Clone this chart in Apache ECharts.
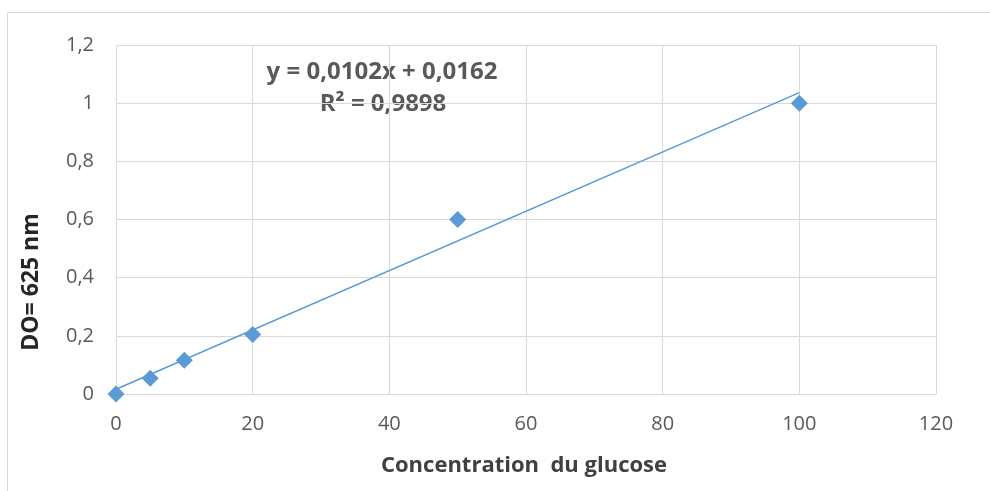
<!DOCTYPE html>
<html><head><meta charset="utf-8">
<script src="https://cdn.jsdelivr.net/npm/echarts@6/dist/echarts.min.js"></script>
<style>html,body{margin:0;padding:0;background:#fff}#c{width:990px;height:491px}</style>
</head><body><div id="c"></div>
<script>
const concentrations = [0, 5, 10, 20, 50, 100];
const absorbances = [0, 0.054, 0.116, 0.205, 0.6, 1.0];
const trendSlope = 0.0102;
const trendIntercept = 0.0162;
const trendRange = [0, 100];
const equationText = 'y = 0,0102x + 0,0162';
const r2Text = 'R² = 0,9898';
const xTitle = 'Concentration  du glucose';
const yTitle = 'DO= 625 nm';

const trendData = trendRange.map(x => [x, trendSlope * x + trendIntercept]);
const fmt = v => String(Math.round(v * 10) / 10).replace('.', ',');
const gray = '#595959', grid = '#d9d9d9', blue = '#5b9bd5';
const chart = echarts.init(document.getElementById('c'));
chart.setOption({
  animation: false,
  grid: {left: 116, right: 54, top: 45, bottom: 97},
  xAxis: {type: 'value', min: 0, max: 120, interval: 20,
    axisLine: {show: true, lineStyle: {color: grid}}, axisTick: {show: false},
    splitLine: {show: true, lineStyle: {color: grid, width: 1}},
    axisLabel: {color: gray, fontSize: 20, fontFamily: 'Open Sans', margin: 20}},
  yAxis: {type: 'value', min: 0, max: 1.2, interval: 0.2,
    axisLine: {show: false}, axisTick: {show: false},
    splitLine: {show: true, lineStyle: {color: grid, width: 1}},
    axisLabel: {color: gray, fontSize: 20, fontFamily: 'Open Sans', margin: 22, formatter: fmt}},
  series: [
    {type: 'line', data: trendData, symbol: 'none', lineStyle: {color: blue, width: 1.5}, z: 2},
    {type: 'scatter', data: concentrations.map((x, i) => [x, absorbances[i]]),
      symbol: 'diamond', symbolSize: 17, itemStyle: {color: blue, opacity: 1}, z: 3}
  ],
  graphic: [
    {type: 'polyline', shape: {points: [[7.5, 491], [7.5, 12.5], [990, 12.5]]}, style: {stroke: grid, lineWidth: 1, fill: null}},
    {type: 'text', x: 382, y: 72, style: {text: equationText, fill: gray, font: 'bold 24px "Open Sans"', textAlign: 'center', textVerticalAlign: 'middle'}},
    {type: 'text', x: 383, y: 104, style: {text: r2Text, fill: gray, font: 'bold 24px "Open Sans"', textAlign: 'center', textVerticalAlign: 'middle'}},
    {type: 'text', x: 524, y: 466, style: {text: xTitle, fill: '#404040', font: 'bold 22px "Open Sans"', textAlign: 'center', textVerticalAlign: 'middle'}},
    {type: 'text', x: 31, y: 282, rotation: Math.PI / 2, style: {text: yTitle, fill: '#262626', font: 'bold 23px "Open Sans"', textAlign: 'center', textVerticalAlign: 'middle'}}
  ]
});
</script></body></html>
